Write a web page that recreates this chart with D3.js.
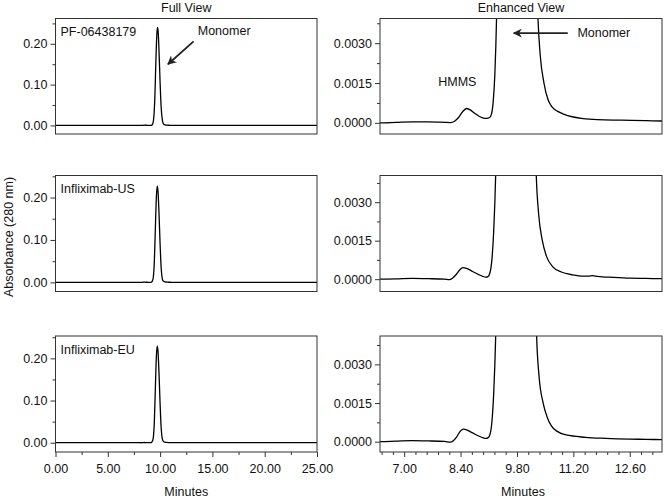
<!DOCTYPE html>
<html>
<head>
<meta charset="utf-8">
<script src="https://cdn.jsdelivr.net/npm/d3@7"></script>
<style>
  html, body { margin: 0; padding: 0; background: #fff; }
  svg { display: block; font-family: "Liberation Sans", Arial, sans-serif; }
</style>
</head>
<body>
<svg id="chart" width="664" height="500"></svg>
<script>
// ---------- DATA ----------
const sampleNames = ["PF-06438179", "Infliximab-US", "Infliximab-EU"];

// [minutes, absorbance (AU)]
const pfTrace = [[0,0],[3,0.00001],[6,0.00001],[6.4,0.0],[6.8,0.00002],[7.2,0.00004],[7.6,0.00004],[8.0,0.00002],[8.15,0.00001],[8.25,0.00006],[8.35,0.0002],[8.45,0.00042],[8.55,0.00054],[8.65,0.00048],[8.75,0.00036],[8.85,0.00026],[8.95,0.00019],[9.05,0.00017],[9.12,0.0002],[9.17,0.00035],[9.21,0.0008],[9.25,0.0018],[9.3,0.0045],[9.4,0.02],[9.5,0.07],[9.6,0.16],[9.7,0.228],[9.76,0.24],[9.82,0.228],[9.9,0.18],[10.0,0.105],[10.1,0.045],[10.2,0.016],[10.25,0.0085],[10.32,0.004],[10.38,0.0025],[10.47,0.0015],[10.57,0.00088],[10.67,0.0006],[10.8,0.00044],[10.94,0.00034],[11.2,0.00022],[11.44,0.00016],[11.8,0.00012],[12.4,0.0001],[13.0,0.00008],[13.4,0.00007],[15,0.00004],[20,0.00002],[25,0.00001]];

const usTrace = [[0,0],[3,0.00001],[6,0.00001],[6.4,0.0],[6.8,0.00001],[7.2,0.00003],[7.6,0.00002],[8.0,0.0],[8.12,-0.00002],[8.2,0.00004],[8.3,0.0002],[8.4,0.0004],[8.47,0.00045],[8.55,0.00042],[8.7,0.0003],[8.85,0.00018],[8.95,0.00011],[9.03,0.00008],[9.08,0.0001],[9.13,0.00025],[9.18,0.0008],[9.22,0.0018],[9.27,0.004],[9.35,0.012],[9.45,0.05],[9.55,0.13],[9.65,0.205],[9.73,0.227],[9.8,0.215],[9.9,0.16],[10.0,0.09],[10.1,0.035],[10.17,0.015],[10.22,0.0078],[10.28,0.004],[10.34,0.0025],[10.43,0.0015],[10.53,0.0009],[10.69,0.00048],[10.9,0.00028],[11.18,0.00017],[11.45,0.00012],[11.58,0.00012],[11.67,0.00014],[11.8,0.00011],[12.2,0.00007],[12.6,0.00004],[13.0,0.00003],[13.4,0.00002],[15,0.00001],[20,0.0],[25,0.0]];

const euTrace = [[0,0],[3,0.00001],[6,0.00001],[6.4,0.0],[6.8,0.00002],[7.2,0.00004],[7.6,0.00003],[8.0,0.00001],[8.15,-0.00002],[8.22,0.00004],[8.3,0.00018],[8.4,0.00042],[8.47,0.00049],[8.55,0.00046],[8.7,0.00034],[8.85,0.00022],[8.95,0.00016],[9.03,0.00013],[9.08,0.00015],[9.13,0.00028],[9.18,0.0008],[9.22,0.0018],[9.27,0.004],[9.35,0.012],[9.45,0.05],[9.55,0.132],[9.65,0.208],[9.73,0.229],[9.8,0.217],[9.9,0.162],[10.0,0.092],[10.1,0.036],[10.17,0.016],[10.23,0.008],[10.29,0.004],[10.35,0.0025],[10.45,0.0015],[10.55,0.00095],[10.65,0.00062],[10.8,0.0004],[11.02,0.00026],[11.5,0.00017],[12.0,0.00013],[12.6,0.0001],[13.0,0.00009],[13.4,0.00008],[15,0.00004],[20,0.00001],[25,0.0]];

const traces = [pfTrace, usTrace, euTrace];

// axis ticks
const fullXTicks = [0, 5, 10, 15, 20, 25];
const fullXMinor = [2.5, 7.5, 12.5, 17.5, 22.5];
const fullYTicks = [0, 0.10, 0.20];
const fullYMinor = [0.05, 0.15, 0.25];
const enhXTicks = [7.00, 8.40, 9.80, 11.20, 12.60];
const enhXMinor = [6.44, 6.72, 7.28, 7.56, 7.84, 8.12, 8.68, 8.96, 9.24, 9.52, 10.08, 10.36, 10.64, 10.92, 11.48, 11.76, 12.04, 12.32, 12.88, 13.16];
const enhYTicks = [0, 0.0015, 0.0030];
const enhYMinor = [0.00075, 0.00225, 0.00375];

// axis domains per row
const fullYDomains = [[-0.021, 0.262], [-0.0215, 0.252], [-0.022, 0.253]];
const enhYDomains = [[-0.00042, 0.00393], [-0.00048, 0.00404], [-0.0004, 0.0041]];

// ---------- LAYOUT ----------
const rowTops = [18.5, 175.5, 336];
const rowBottoms = [134, 291.5, 452];
const leftX = [55.5, 317];
const rightX = [380, 662];
const frameColor = "#333";
const fontSize = 12.5;

const svg = d3.select("#chart");
const defs = svg.append("defs");
defs.append("marker")
  .attr("id", "arrowhead")
  .attr("viewBox", "0 0 10 10")
  .attr("refX", 9).attr("refY", 5)
  .attr("markerWidth", 9).attr("markerHeight", 9)
  .attr("markerUnits", "userSpaceOnUse")
  .attr("orient", "auto")
  .append("path").attr("d", "M0,0 L10,5 L0,10 L3,5 Z").attr("fill", "#222");

const xFull = d3.scaleLinear().domain([0, 25]).range(leftX);
const xEnh = d3.scaleLinear().domain([6.4, 13.4]).range(rightX);

function styleAxis(g) {
  g.select(".domain").remove();
  g.selectAll(".tick line").attr("stroke", frameColor);
  g.selectAll(".tick text").attr("fill", "#111").style("font-size", fontSize + "px")
    .style("font-family", '"Liberation Sans", Arial, sans-serif');
}

const line = (x, y) => d3.line().x(d => x(d[0])).y(d => y(d[1])).curve(d3.curveMonotoneX);

traces.forEach((trace, i) => {
  const top = rowTops[i], bot = rowBottoms[i];
  const yFull = d3.scaleLinear().domain(fullYDomains[i]).range([bot, top]);
  const yEnh = d3.scaleLinear().domain(enhYDomains[i]).range([bot, top]);

  defs.append("clipPath").attr("id", "clipL" + i).append("rect")
    .attr("x", leftX[0]).attr("y", top).attr("width", leftX[1] - leftX[0]).attr("height", bot - top);
  defs.append("clipPath").attr("id", "clipR" + i).append("rect")
    .attr("x", rightX[0]).attr("y", top).attr("width", rightX[1] - rightX[0]).attr("height", bot - top);

  // --- Full view ---
  svg.append("g").attr("transform", `translate(${leftX[0]},0)`)
    .call(d3.axisLeft(yFull).tickValues(fullYTicks).tickFormat(d3.format(".2f")).tickSize(5).tickPadding(3))
    .call(styleAxis);
  svg.append("g").attr("transform", `translate(${leftX[0]},0)`)
    .call(d3.axisLeft(yFull).tickValues(fullYMinor).tickFormat("").tickSize(3))
    .call(styleAxis);

  svg.append("path").datum(trace)
    .attr("clip-path", `url(#clipL${i})`)
    .attr("fill", "none").attr("stroke", "#000").attr("stroke-width", 1.3)
    .attr("d", line(xFull, yFull));

  svg.append("rect").attr("x", leftX[0]).attr("y", top)
    .attr("width", leftX[1] - leftX[0]).attr("height", bot - top)
    .attr("fill", "none").attr("stroke", frameColor).attr("stroke-width", 1);

  svg.append("text").attr("x", leftX[0] + 5).attr("y", top + 17.5)
    .style("font-size", fontSize + "px").attr("fill", "#111").text(sampleNames[i]);

  // --- Enhanced view ---
  svg.append("g").attr("transform", `translate(${rightX[0]},0)`)
    .call(d3.axisLeft(yEnh).tickValues(enhYTicks).tickFormat(d3.format(".4f")).tickSize(5).tickPadding(3))
    .call(styleAxis);
  svg.append("g").attr("transform", `translate(${rightX[0]},0)`)
    .call(d3.axisLeft(yEnh).tickValues(enhYMinor).tickFormat("").tickSize(3))
    .call(styleAxis);

  svg.append("path").datum(trace)
    .attr("clip-path", `url(#clipR${i})`)
    .attr("fill", "none").attr("stroke", "#000").attr("stroke-width", 1.3)
    .attr("d", line(xEnh, yEnh));

  svg.append("rect").attr("x", rightX[0]).attr("y", top)
    .attr("width", rightX[1] - rightX[0]).attr("height", bot - top)
    .attr("fill", "none").attr("stroke", frameColor).attr("stroke-width", 1);

  if (i === traces.length - 1) {
    svg.append("g").attr("transform", `translate(0,${bot})`)
      .call(d3.axisBottom(xFull).tickValues(fullXTicks).tickFormat(d3.format(".2f")).tickSize(5).tickPadding(7))
      .call(styleAxis);
    svg.append("g").attr("transform", `translate(0,${bot})`)
      .call(d3.axisBottom(xFull).tickValues(fullXMinor).tickFormat("").tickSize(3))
      .call(styleAxis);
    svg.append("g").attr("transform", `translate(0,${bot})`)
      .call(d3.axisBottom(xEnh).tickValues(enhXTicks).tickFormat(d3.format(".2f")).tickSize(5).tickPadding(7))
      .call(styleAxis);
    svg.append("g").attr("transform", `translate(0,${bot})`)
      .call(d3.axisBottom(xEnh).tickValues(enhXMinor).tickFormat("").tickSize(3))
      .call(styleAxis);
  }

  if (i === 0) {
    svg.append("line")
      .attr("x1", xFull(13.2)).attr("y1", yFull(0.206))
      .attr("x2", xFull(10.75)).attr("y2", yFull(0.150))
      .attr("stroke", "#222").attr("stroke-width", 1.8)
      .attr("marker-end", "url(#arrowhead)");
    svg.append("text").attr("x", xFull(13.6)).attr("y", yFull(0.222))
      .style("font-size", fontSize + "px").attr("fill", "#111").text("Monomer");

    svg.append("line")
      .attr("x1", xEnh(11.06)).attr("y1", yEnh(0.00338))
      .attr("x2", xEnh(9.72)).attr("y2", yEnh(0.00338))
      .attr("stroke", "#222").attr("stroke-width", 1.8)
      .attr("marker-end", "url(#arrowhead)");
    svg.append("text").attr("x", xEnh(11.30)).attr("y", yEnh(0.00323))
      .style("font-size", fontSize + "px").attr("fill", "#111").text("Monomer");

    svg.append("text").attr("x", xEnh(8.32)).attr("y", yEnh(0.00138))
      .attr("text-anchor", "middle")
      .style("font-size", fontSize + "px").attr("fill", "#111").text("HMMS");
  }
});

svg.append("text").attr("x", (leftX[0] + leftX[1]) / 2).attr("y", 12)
  .attr("text-anchor", "middle").style("font-size", fontSize + "px").attr("fill", "#111").text("Full View");
svg.append("text").attr("x", (rightX[0] + rightX[1]) / 2).attr("y", 12)
  .attr("text-anchor", "middle").style("font-size", fontSize + "px").attr("fill", "#111").text("Enhanced View");

svg.append("text").attr("x", (leftX[0] + leftX[1]) / 2).attr("y", 496)
  .attr("text-anchor", "middle").style("font-size", fontSize + "px").attr("fill", "#111").text("Minutes");
svg.append("text").attr("x", (rightX[0] + rightX[1]) / 2 + 2).attr("y", 496)
  .attr("text-anchor", "middle").style("font-size", fontSize + "px").attr("fill", "#111").text("Minutes");
svg.append("text")
  .attr("transform", "translate(13,237) rotate(-90)")
  .attr("text-anchor", "middle").style("font-size", fontSize + "px").attr("fill", "#111")
  .text("Absorbance (280 nm)");
</script>
</body>
</html>
